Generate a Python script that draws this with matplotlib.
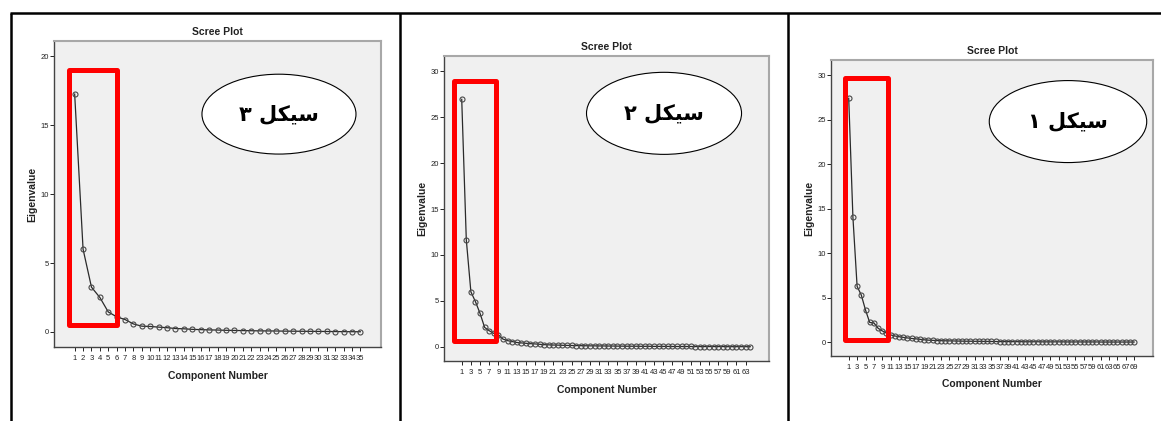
import matplotlib
matplotlib.use("Agg")
import matplotlib.pyplot as plt
from matplotlib.patches import Rectangle, Ellipse
from matplotlib.lines import Line2D

W, H = 1161, 421

# eigenvalues (left to right in the picture)
ev_cycle3 = [17.25, 6.00, 3.25, 2.50, 1.45,
             1.10, 0.90, 0.58, 0.42, 0.40,
             0.35, 0.31, 0.25, 0.23, 0.19,
             0.17, 0.15, 0.14, 0.12, 0.11,
             0.10, 0.09, 0.08, 0.075, 0.07,
             0.06, 0.055, 0.05, 0.045, 0.04,
             0.035, 0.03, 0.025, 0.02, 0.015]

ev_cycle2 = [26.95, 11.64, 5.98, 4.90, 3.63, 2.10, 1.74, 1.45,
             1.30, 0.83, 0.66, 0.56, 0.46, 0.41, 0.37, 0.33,
             0.30, 0.26, 0.22, 0.20, 0.18, 0.17, 0.15, 0.14,
             0.13, 0.12, 0.11, 0.10, 0.09, 0.09, 0.08, 0.08,
             0.07, 0.07, 0.06, 0.06, 0.05, 0.05, 0.05, 0.04,
             0.04, 0.04, 0.03, 0.03, 0.03, 0.03, 0.02, 0.02,
             0.02, 0.02, 0.02, 0.01, 0.01, 0.01, 0.01, 0.01,
             0.01, 0.01, 0.00, 0.00, 0.00, 0.00, 0.00, 0.00]

ev_cycle1 = [27.40, 14.05, 6.25, 5.28, 3.60, 2.20, 2.15, 1.55, 1.25, 1.00,
             0.80, 0.68, 0.60, 0.52, 0.46, 0.40, 0.36, 0.30, 0.25, 0.21,
             0.19, 0.17, 0.15, 0.14, 0.13, 0.12, 0.11, 0.10, 0.09, 0.09,
             0.08, 0.08, 0.07, 0.07, 0.06, 0.06, 0.05, 0.05, 0.05, 0.04,
             0.04, 0.04, 0.03, 0.03, 0.03, 0.03, 0.02, 0.02, 0.02, 0.02,
             0.02, 0.02, 0.01, 0.01, 0.01, 0.01, 0.01, 0.01, 0.01, 0.01,
             0.00, 0.00, 0.00, 0.00, 0.00, 0.00, 0.00, 0.00, 0.00]

cycle_labels = ["سیکل ۳", "سیکل ۲", "سیکل ۱"]

# matplotlib does no arabic shaping, so pick the contextual forms by hand
FORMS = {
    "س": ("\uFEB1", "\uFEB2", "\uFEB3", "\uFEB4"),
    "ی": ("\uFBFC", "\uFBFD", "\uFBFE", "\uFBFF"),
    "ک": ("\uFB8E", "\uFB8F", "\uFB90", "\uFB91"),
    "ل": ("\uFEDD", "\uFEDE", "\uFEDF", "\uFEE0"),
}


def shape_fa(text):
    out = []
    for i, ch in enumerate(text):
        if ch not in FORMS:
            out.append(ch)
            continue
        prev = i > 0 and text[i - 1] in FORMS
        nxt = i < len(text) - 1 and text[i + 1] in FORMS
        iso, fin, ini, med = FORMS[ch]
        out.append(med if prev and nxt else fin if prev else ini if nxt else iso)
    return "".join(reversed(out))


SANS = ["Liberation Sans Narrow", "Liberation Sans", "DejaVu Sans"]

panels = [
    dict(ev=ev_cycle3, label=cycle_labels[0], box=(54, 41, 381, 347),
         xlim=(-1.46, 37.46), ylim=(-1.09, 21.1), yticks=range(0, 21, 5), step=1,
         rect=(0.32, 0.5, 6.0, 19.0), ell=(0.688, 0.761, 0.471, 0.261)),
    dict(ev=ev_cycle2, label=cycle_labels[1], box=(444, 56, 769, 361),
         xlim=(-2.87, 68.1), ylim=(-1.56, 31.67), yticks=range(0, 31, 5), step=2,
         rect=(-0.68, 0.65, 8.43, 28.9), ell=(0.677, 0.812, 0.477, 0.269)),
    dict(ev=ev_cycle1, label=cycle_labels[2], box=(831, 60, 1153, 356),
         xlim=(-3.22, 73.5), ylim=(-1.57, 31.7), yticks=range(0, 31, 5), step=2,
         rect=(0.12, 0.22, 10.3, 29.7), ell=(0.736, 0.792, 0.489, 0.277)),
]

fig = plt.figure(figsize=(W / 100, H / 100), dpi=100)
fig.patch.set_facecolor("white")

for p in panels:
    x0, y0, x1, y1 = p["box"]
    ax = fig.add_axes([x0 / W, 1 - y1 / H, (x1 - x0) / W, (y1 - y0) / H])
    ax.set_facecolor("#f0f0f0")
    n = len(p["ev"])
    comps = list(range(1, n + 1))
    ax.plot(comps, p["ev"], color="#2a2a2a", lw=0.9, marker="o", ms=3.6,
            mfc="none", mec="#484848", mew=0.8, zorder=3)
    ax.set_xlim(*p["xlim"])
    ax.set_ylim(*p["ylim"])
    ax.set_xticks(comps[::p["step"]])
    ax.set_yticks(list(p["yticks"]))
    ax.tick_params(axis="x", direction="out", length=3, width=0.7, pad=3,
                   labelsize=5.5, colors="#222222")
    ax.tick_params(axis="y", direction="out", length=3, width=0.7, pad=0.5,
                   labelsize=5.5, colors="#222222")
    for lab in ax.get_xticklabels() + ax.get_yticklabels():
        lab.set_family(SANS)
    for side in ["top", "right"]:
        ax.spines[side].set_color("#a8a8a8")
        ax.spines[side].set_linewidth(1.5)
    for side in ["left", "bottom"]:
        ax.spines[side].set_color("#444444")
        ax.spines[side].set_linewidth(1.0)

    ax.set_title("Scree Plot", fontsize=7.5, fontweight="bold", family=SANS,
                 pad=4, color="#222222")
    ax.set_xlabel("Component Number", fontsize=7.5, fontweight="bold", family=SANS,
                  color="#222222")
    ax.set_ylabel("Eigenvalue", fontsize=7.5, fontweight="bold", family=SANS,
                  color="#222222")
    ax.xaxis.set_label_coords(0.5, -0.078)
    ax.yaxis.set_label_coords(-0.051, 0.5)

    rx0, ry0, rx1, ry1 = p["rect"]
    ax.add_patch(Rectangle((rx0, ry0), rx1 - rx0, ry1 - ry0, fill=False,
                           edgecolor="#ff0000", lw=3.6, joinstyle="round",
                           zorder=4, clip_on=False))

    ex, ey, ew, eh = p["ell"]
    ax.add_patch(Ellipse((ex, ey), ew, eh, transform=ax.transAxes,
                         facecolor="white", edgecolor="black", lw=0.8, zorder=5))
    ax.text(ex, ey, shape_fa(p["label"]), transform=ax.transAxes,
            ha="center", va="center", fontsize=15, fontweight="bold",
            family=["DejaVu Sans"], zorder=6)

# table borders around the three cells
border = dict(color="black", lw=1.8, solid_capstyle="butt")
fig.add_artist(Line2D([10 / W, 1.0], [1 - 13 / H, 1 - 13 / H],
                      transform=fig.transFigure, **border))
for xb in [11, 400, 788]:
    fig.add_artist(Line2D([xb / W, xb / W], [1 - 13 / H, 0.0],
                          transform=fig.transFigure, **border))

fig.savefig("out.png", dpi=100, facecolor="white")
